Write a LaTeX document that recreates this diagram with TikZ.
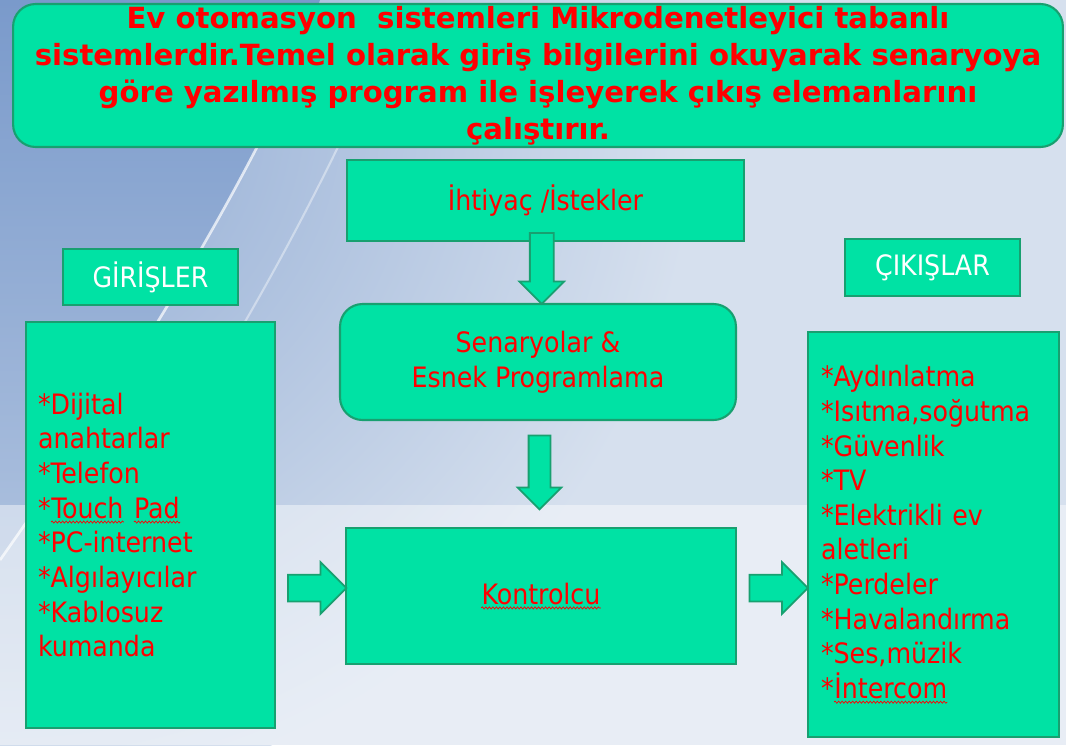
\documentclass[tikz,border=0pt]{standalone}
\usepackage{fontspec}
\setmainfont{DejaVu Sans Condensed}
\newfontfamily\baslikfont{DejaVu Sans}
\usetikzlibrary{shapes.arrows,calc,decorations.pathmorphing}
\definecolor{yesil}{RGB}{0,226,164}
\definecolor{kenar}{RGB}{24,160,112}
\definecolor{mavi}{RGB}{122,154,203}
\definecolor{bgust}{RGB}{214,224,238}
% dalgali alt cizgi
\newcommand\dalga[1]{\tikz[baseline=(w.base)]{\node[inner sep=0pt,minimum width=0pt,
  minimum height=0pt,text width={},align=none] (w) {#1};
  \draw[red,line width=.4pt,decorate,decoration={snake,amplitude=.6pt,segment length=2pt}]
  ([yshift=-2.2pt]w.base west) -- ([yshift=-2.2pt]w.base east);}}
\begin{document}
\begin{tikzpicture}[x=0.02cm,y=-0.02cm,
  kutu/.style={draw=kenar,fill=yesil,line width=1.2pt,text=red,
    font=\fontsize{16}{19.7}\selectfont},
  etiket/.style={kutu,text=white,minimum width=3.5cm,minimum height=1.13cm},
  ok/.style={single arrow,draw=kenar,fill=yesil,line width=1pt,
    single arrow tip angle=90}]
\useasboundingbox (0,0) rectangle (1066,745);
% arka plan
\begin{scope}
\clip (0,0) rectangle (1066,745);
\fill[bgust] (0,0) rectangle (1066,745);
\shade[inner color=mavi!80!bgust,outer color=bgust] (0,100) circle (700);
\shade[top color=mavi,bottom color=mavi!45!bgust] (0,0) -- (320,0) -- (290,80)
  .. controls (225,220) and (120,390) .. (0,560) -- cycle;
\end{scope}
\fill[white,opacity=.45] (0,505) rectangle (1066,745);
\draw[white,opacity=.7,line width=1.5pt] (290,80) .. controls (225,220) and (120,390) .. (0,560);
\draw[white,opacity=.4,line width=1.2pt] (370,80) .. controls (300,230) and (220,380) .. (90,560);
% kutular
\node[kutu,rounded corners=0.45cm,minimum width=21cm,minimum height=2.86cm,
  inner ysep=0,align=center,font=\baslikfont\bfseries\fontsize{16.6}{21}\selectfont]
  (baslik) at (538,75.5) {Ev otomasyon\ \ sistemleri Mikrodenetleyici tabanlı\\
  sistemlerdir.Temel olarak giriş bilgilerini okuyarak senaryoya\\
  göre yazılmış program ile işleyerek çıkış elemanlarını\\ çalıştırır.};
\node[kutu,minimum width=7.94cm,minimum height=1.62cm] (ihtiyac) at (545.5,200.5) {İhtiyaç /İstekler};
\node[kutu,rounded corners=0.45cm,minimum width=7.92cm,minimum height=2.32cm,align=center]
  (senaryo) at (538,362) {Senaryolar \&\\ Esnek Programlama};
\node[kutu,minimum width=7.8cm,minimum height=2.72cm] (kontrol) at (541,596) {\dalga{Kontrolcu}};
\node[etiket] (girisler) at (150.5,277) {GİRİŞLER};
\node[etiket] (cikislar) at (932.5,267.5) {ÇIKIŞLAR};
\node[kutu,minimum height=8.12cm,text width=4.5cm,inner xsep=0.24cm,align=left]
  (giris) at (150.5,525) {{*}Dijital\\ anahtarlar\\ {*}Telefon\\ {*}\dalga{Touch} \dalga{Pad}\\
  {*}PC-internet\\ {*}Algılayıcılar\\ {*}Kablosuz\\ kumanda};
\node[kutu,minimum height=8.1cm,text width=4.5cm,inner xsep=0.26cm,align=left]
  (cikis) at (933.5,534.5) {{*}Aydınlatma\\ {*}Isıtma,soğutma\\ {*}Güvenlik\\ {*}TV\\
  {*}Elektrikli ev\\ aletleri\\ {*}Perdeler\\ {*}Havalandırma\\ {*}Ses,müzik\\ {*}\dalga{İntercom}};
% oklar
\node[ok,rotate=-90,minimum height=1.42cm,minimum width=0.86cm,inner sep=0.22cm,
  single arrow head extend=0.21cm] (ok1) at ($(ihtiyac.south)!.5!(senaryo.north)+(0,-10)$) {};
\node[ok,rotate=-90,minimum height=1.48cm,minimum width=0.84cm,inner sep=0.2cm,
  single arrow head extend=0.22cm] (ok2) at ($(senaryo.south)!.5!(kontrol.north)+(0,-7)$) {};
\foreach \a/\b/\n in {giris/kontrol/ok3, kontrol/cikis/ok4}
  \node[ok,minimum height=1.17cm,minimum width=1cm,inner sep=0.25cm,
    single arrow head extend=0.25cm] (\n) at ($(\a.east |- kontrol.west)!.5!(\b.west |- kontrol.west)+(0,-8)$) {};
\end{tikzpicture}
\end{document}
